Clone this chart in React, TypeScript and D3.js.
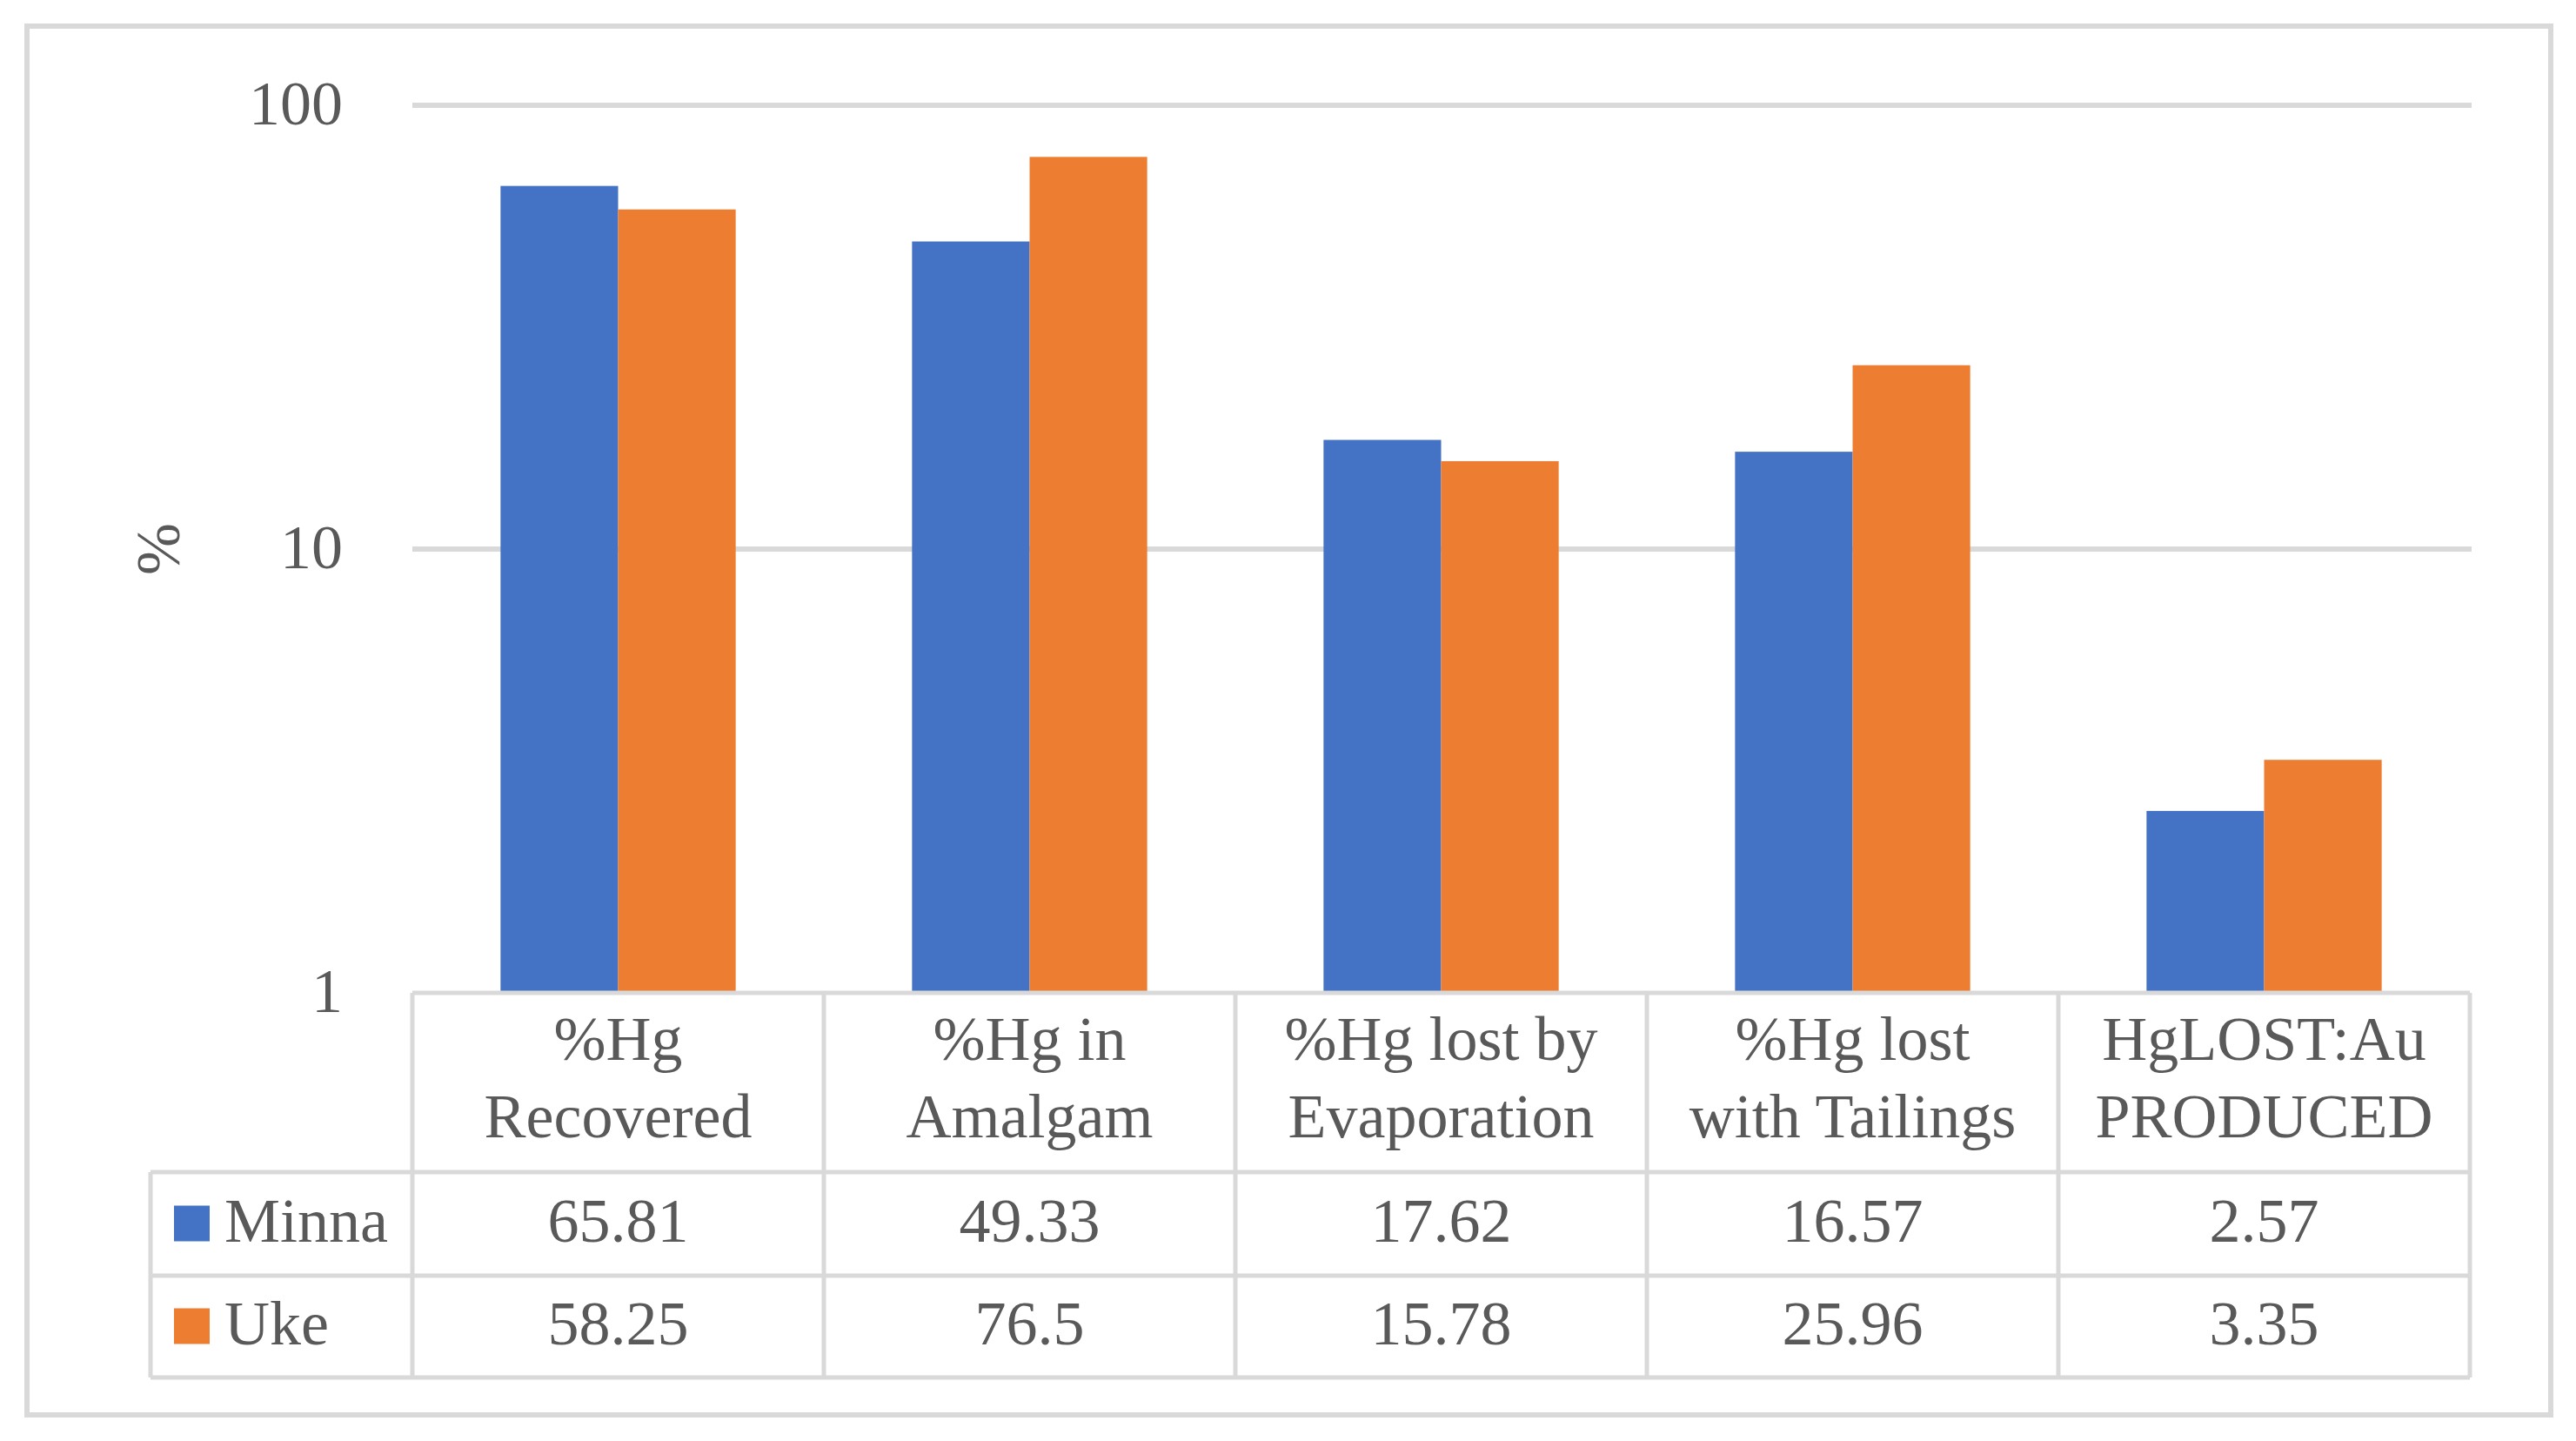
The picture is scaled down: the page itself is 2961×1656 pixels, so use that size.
import { useEffect, useRef } from "react"
import * as d3 from "d3";

// chart data
const categories = ["%Hg\nRecovered", "%Hg in\nAmalgam", "%Hg lost by\nEvaporation", "%Hg lost\nwith Tailings", "HgLOST:Au\nPRODUCED"];
const seriesNames = ["Minna", "Uke"];
const minna = [65.81, 49.33, 17.62, 16.57, 2.57];
const uke = [58.25, 76.5, 15.78, 25.96, 3.35];
const valueLabels = [
  ["65.81", "49.33", "17.62", "16.57", "2.57"],
  ["58.25", "76.5", "15.78", "25.96", "3.35"],
];
const yTicks = [1, 10, 100];
const colors = ["#4472C4", "#ED7D31"];

const W = 2961;
const H = 1656;
const FONT = "'Liberation Serif', 'DejaVu Serif', serif";
const TEXT = "#595959";
const LINE = "#D9D9D9";

const App = () => {
  const chartRef = useRef<SVGSVGElement>(null);

  useEffect(() => {
    const svg = d3.select(chartRef.current);
    svg.selectAll("*").remove();

    const plotLeft = 474, plotRight = 2839, plotTop = 121, plotBottom = 1141;
    const headerBottom = 1347, row1Bottom = 1466, tableBottom = 1583, legendLeft = 173;

    // background + outer border
    svg.append("rect").attr("width", W).attr("height", H).attr("fill", "#fff");
    svg.append("rect")
      .attr("x", 31).attr("y", 30).attr("width", 2901).attr("height", 1596)
      .attr("fill", "none").attr("stroke", LINE).attr("stroke-width", 6);

    const x = d3.scaleBand().domain(categories).range([plotLeft, plotRight]).padding(0);
    const xs = d3.scaleBand().domain(seriesNames).range([0, x.bandwidth()]).paddingInner(0).paddingOuter(0.75);
    const y = d3.scaleLog().domain([1, 100]).range([plotBottom, plotTop]);

    // gridlines
    svg.append("g")
      .selectAll("line")
      .data(yTicks.filter(t => t > 1))
      .join("line")
      .attr("x1", plotLeft).attr("x2", plotRight + 2)
      .attr("y1", d => y(d)).attr("y2", d => y(d))
      .attr("stroke", LINE).attr("stroke-width", 6);

    // y axis labels
    const yAxis = svg.append("g")
      .attr("transform", `translate(${plotLeft - 80},0)`)
      .call(d3.axisLeft(y).tickValues(yTicks).tickFormat(d3.format("d")).tickSize(0).tickPadding(0));
    yAxis.select(".domain").remove();
    yAxis.selectAll("text")
      .attr("font-family", FONT).attr("font-size", 72).attr("fill", TEXT).attr("dy", "0.3em");

    // y axis title
    svg.append("text")
      .attr("transform", `translate(${206},${(plotTop + plotBottom) / 2}) rotate(-90)`)
      .attr("text-anchor", "middle")
      .attr("font-family", FONT).attr("font-size", 72).attr("fill", TEXT)
      .text("%");

    // bars
    const series = [minna, uke];
    series.forEach((vals, si) => {
      svg.append("g")
        .selectAll("rect")
        .data(vals)
        .join("rect")
        .attr("x", (d, i) => x(categories[i])! + xs(seriesNames[si])!)
        .attr("width", xs.bandwidth())
        .attr("y", d => y(d))
        .attr("height", d => plotBottom - y(d))
        .attr("fill", colors[si]);
    });

    // data table
    const t = svg.append("g").attr("stroke", LINE).attr("stroke-width", 5).attr("fill", "none");
    t.append("line").attr("x1", plotLeft).attr("x2", plotRight).attr("y1", plotBottom).attr("y2", plotBottom);
    [headerBottom, row1Bottom, tableBottom].forEach(yy =>
      t.append("line").attr("x1", legendLeft).attr("x2", plotRight).attr("y1", yy).attr("y2", yy));
    t.append("line").attr("x1", legendLeft).attr("x2", legendLeft).attr("y1", headerBottom).attr("y2", tableBottom);
    [...categories.map(c => x(c)!), plotRight].forEach(xx =>
      t.append("line").attr("x1", xx).attr("x2", xx).attr("y1", plotBottom).attr("y2", tableBottom));

    // header text
    categories.forEach(c => {
      const lines = c.split("\n");
      const txt = svg.append("text")
        .attr("text-anchor", "middle")
        .attr("font-family", FONT).attr("font-size", 72).attr("fill", TEXT);
      lines.forEach((ln, li) => {
        txt.append("tspan")
          .attr("x", x(c)! + x.bandwidth() / 2)
          .attr("y", 1218 + li * 89)
          .text(ln);
      });
    });

    // rows: legend + values
    const rowCenters = [(headerBottom + row1Bottom) / 2, (row1Bottom + tableBottom) / 2];
    seriesNames.forEach((name, si) => {
      const cy = rowCenters[si];
      svg.append("rect")
        .attr("x", 200).attr("y", cy - 21).attr("width", 41).attr("height", 41)
        .attr("fill", colors[si]);
      svg.append("text")
        .attr("x", 258).attr("y", cy + 20)
        .attr("font-family", FONT).attr("font-size", 72).attr("fill", TEXT)
        .text(name);
      valueLabels[si].forEach((lab, i) => {
        svg.append("text")
          .attr("x", x(categories[i])! + x.bandwidth() / 2)
          .attr("y", cy + 20)
          .attr("text-anchor", "middle")
          .attr("font-family", FONT).attr("font-size", 72).attr("fill", TEXT)
          .text(lab);
      });
    });
  }, []);

  return (
    <div style={{ position: "absolute", left: 0, top: 0 }}>
      <svg ref={chartRef} width={W} height={H}></svg>
    </div>
  );
};

export default App;
